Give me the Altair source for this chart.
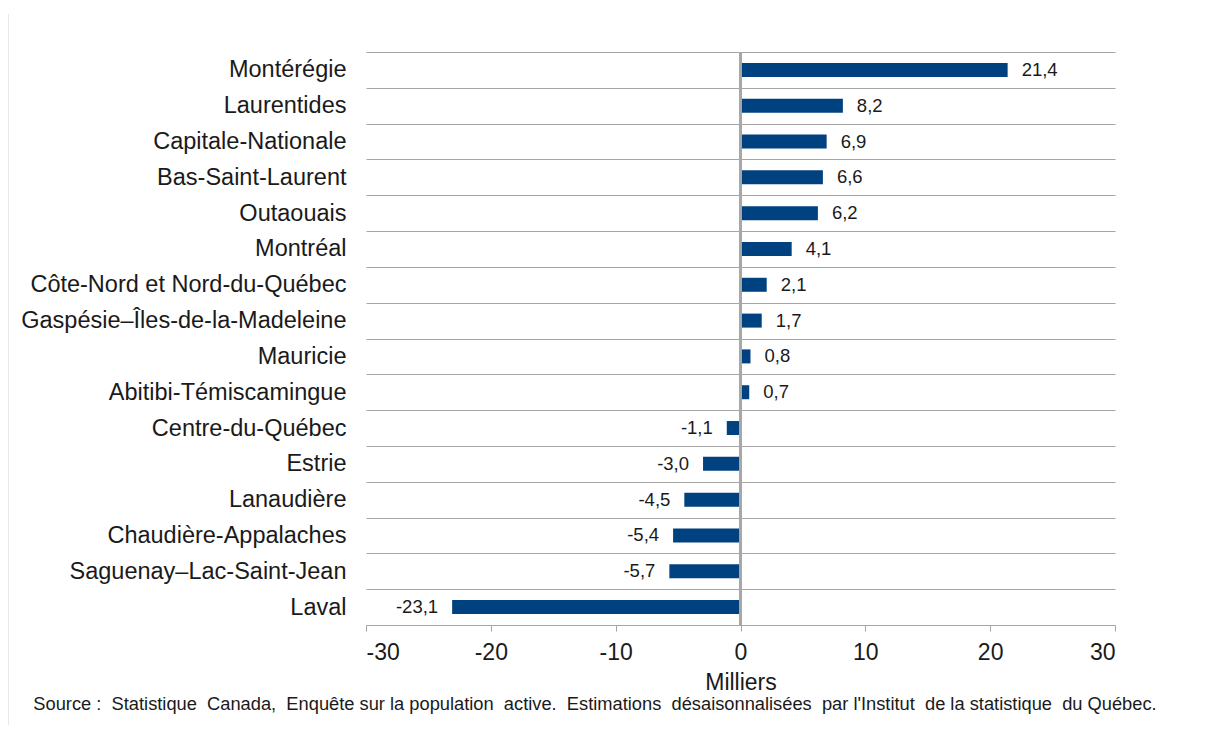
import altair as alt
import pandas as pd

regions = [
    "Montérégie", "Laurentides", "Capitale-Nationale", "Bas-Saint-Laurent",
    "Outaouais", "Montréal", "Côte-Nord et Nord-du-Québec",
    "Gaspésie–Îles-de-la-Madeleine", "Mauricie", "Abitibi-Témiscamingue",
    "Centre-du-Québec", "Estrie", "Lanaudière", "Chaudière-Appalaches",
    "Saguenay–Lac-Saint-Jean", "Laval",
]
values = [21.4, 8.2, 6.9, 6.6, 6.2, 4.1, 2.1, 1.7, 0.8, 0.7,
          -1.1, -3.0, -4.5, -5.4, -5.7, -23.1]
x_ticks = [-30, -20, -10, 0, 10, 20, 30]

NB = "\u00a0"
source = ("Source :" + NB + " Statistique" + NB + " Canada," + NB + " Enquête sur la population"
          + NB + " active." + NB + " Estimations" + NB + " désaisonnalisées" + NB
          + " par l'Institut" + NB + " de la statistique" + NB + " du Québec.")

df = pd.DataFrame({"region": regions, "value": values})

FONT = "Liberation Sans"
GRID = "#a6a6a6"
BAR = "#00427f"
TXT = "#1a1a1a"
W, H = 749, 573

base = alt.Chart(df).encode(
    y=alt.Y("region:N", sort=regions,
            scale=alt.Scale(paddingInner=0, paddingOuter=0),
            axis=alt.Axis(title=None, labelFontSize=23.5, labelPadding=20,
                          labelLimit=0, ticks=False, domain=False, grid=True,
                          tickBand="extent", gridColor=GRID, gridWidth=1,
                          labelColor=TXT, labelFont=FONT)),
)

bars = base.mark_bar(size=14, color=BAR).encode(
    x=alt.X("value:Q", scale=alt.Scale(domain=[-30, 30], nice=False),
            axis=alt.Axis(values=x_ticks, grid=False, title="Milliers",
                          tickSize=6, tickColor=GRID, domainColor=GRID,
                          labelFontSize=23, labelFont=FONT, labelColor=TXT,
                          labelPadding=10, titleFontSize=23, titleFont=FONT,
                          titleFontWeight="normal", titleColor=TXT,
                          titlePadding=7, format="d",
                          labelExpr="replace(datum.label, '\u2212', '-')")),
)

zero = alt.Chart(df).mark_rule(color=GRID, strokeWidth=1.5).encode(x=alt.datum(0))

lbl_expr = "replace(replace(format(datum.value, '.1f'), '.', ','), '\u2212', '-')"
pos_lbl = base.transform_filter("datum.value >= 0").transform_calculate(
    lbl=lbl_expr).mark_text(align="left", dx=14, fontSize=18.5, font=FONT,
                            color=TXT, baseline="middle").encode(
    x="value:Q", text="lbl:N")
neg_lbl = base.transform_filter("datum.value < 0").transform_calculate(
    lbl=lbl_expr).mark_text(align="right", dx=-14, fontSize=18.5, font=FONT,
                            color=TXT, baseline="middle").encode(
    x="value:Q", text="lbl:N")

src = alt.Chart(pd.DataFrame({"t": [source]})).mark_text(
    fontSize=18.3, font=FONT, color=TXT, align="center", baseline="middle"
).encode(text="t:N", x=alt.value(229), y=alt.value(653))

border = alt.Chart(pd.DataFrame({"a": [0]})).mark_rule(color="#d4d4d4").encode(
    x=alt.value(-358), y=alt.value(-38), y2=alt.value(700))

chart = alt.layer(border, bars, zero, pos_lbl, neg_lbl, src).properties(
    width=W, height=H,
    background="white",
    autosize=alt.AutoSizeParams(type="none"),
    padding={"left": 358, "top": 44, "right": 60, "bottom": 100},
).configure_view(strokeWidth=0)

chart.save("out.html", embed_options={"renderer": "svg", "actions": False})
